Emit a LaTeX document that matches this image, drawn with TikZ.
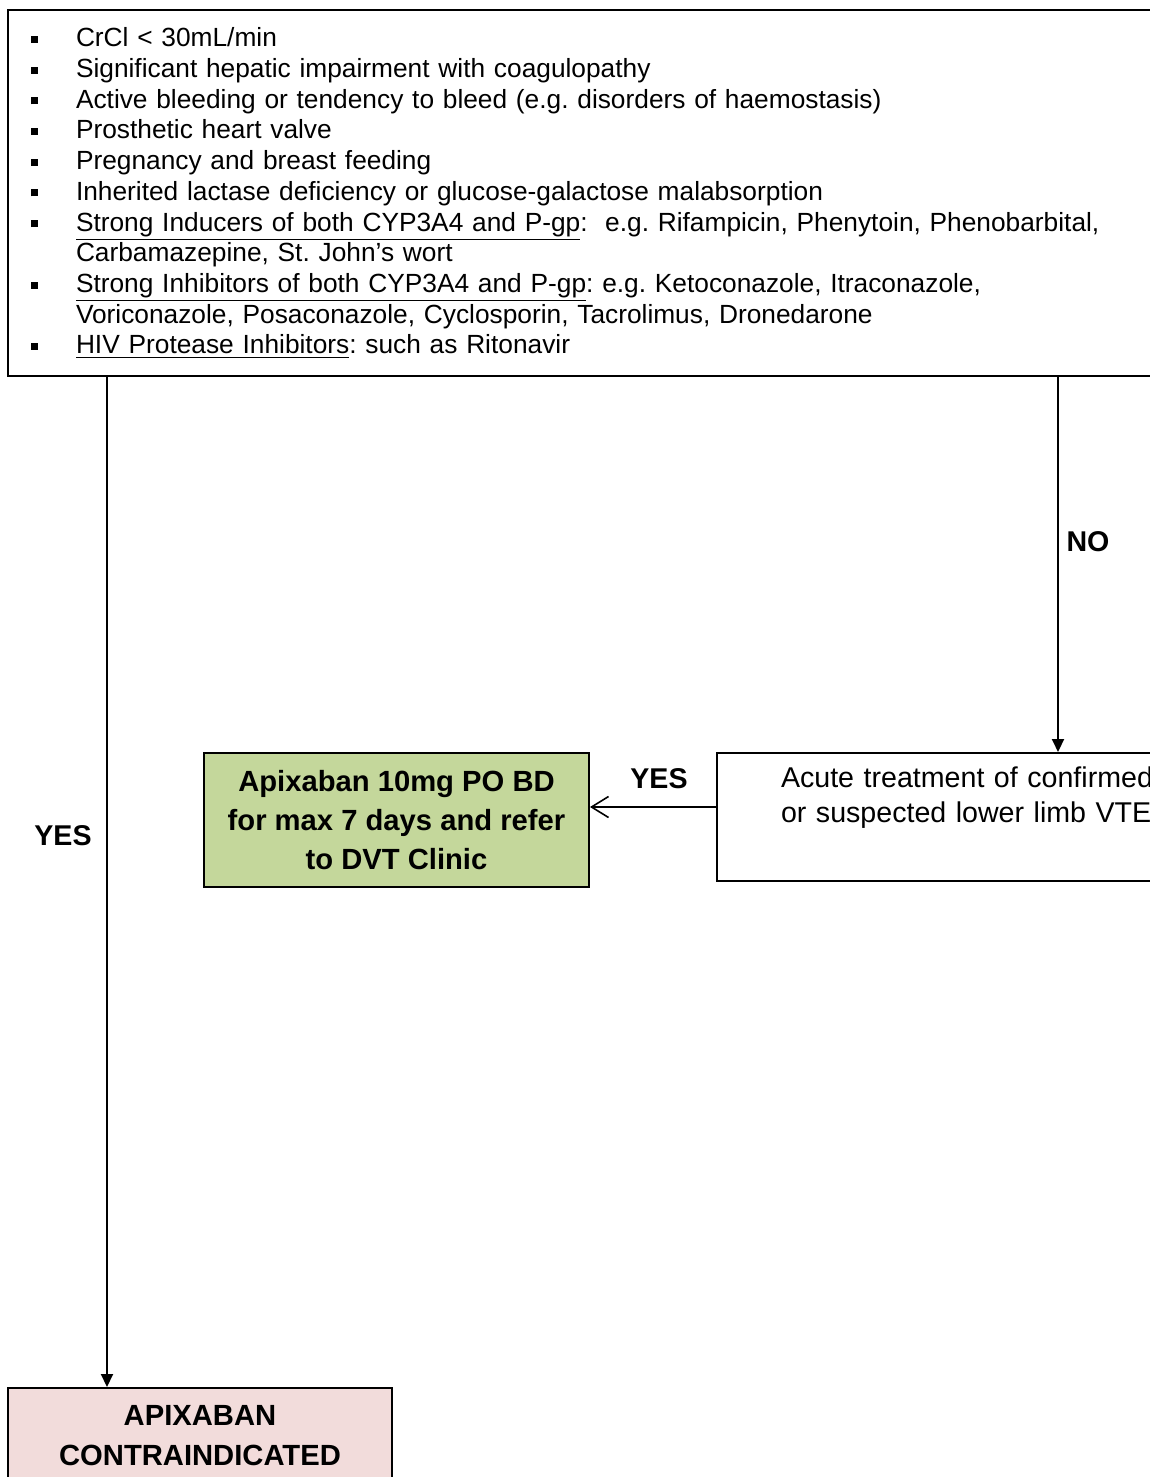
\documentclass[tikz,border=0pt]{standalone}
\usepackage{fontspec}
\setmainfont{Liberation Sans}
\frenchspacing
\usetikzlibrary{
positioning,
arrows.meta,
}
\definecolor{drugfill}{RGB}{196,215,155}
\definecolor{stopfill}{RGB}{242,220,219}
\tikzset{
x=0.5pt, y=-0.5pt,
every node/.style={align=center},
criteria/.style={rectangle, draw, line width=1pt, anchor=north west, align=left,
  inner xsep=11.5pt, font=\fontsize{13.15}{15.35}\selectfont},
process/.style={rectangle, draw, line width=1pt, anchor=north west, align=left,
  font=\fontsize{14.3}{17.5}\selectfont},
drug/.style={rectangle, draw, line width=1pt, anchor=north west, fill=drugfill,
  font=\bfseries\fontsize{14.6}{19.5}\selectfont},
stopbox/.style={rectangle, draw, line width=1pt, anchor=north west, fill=stopfill,
  font=\bfseries\fontsize{14.6}{20}\selectfont},
answer/.style={font=\bfseries\fontsize{14.3}{17}\selectfont},
flow/.style={line width=1pt, -{Triangle[length=6.5pt,width=6pt]}},
back/.style={line width=0.8pt, -{Straight Barb[length=8.5pt,width=10.5pt]}},
}
\newcommand{\critem}[1]{\makebox[22.5pt][l]{\rule[2pt]{3.5pt}{3.5pt}}#1}
\newcommand{\critgap}{\hspace*{22.5pt}}

\begin{document}
\begin{tikzpicture}
\useasboundingbox (0,0) rectangle (1150,1477);
\clip (0,0) rectangle (1150,1477);
\node (crit) [criteria, text width=600pt, minimum height=183pt] at (7,9) {%
  \critem{CrCl < 30mL/min}\\
  \critem{Significant hepatic impairment with coagulopathy}\\
  \critem{Active bleeding or tendency to bleed (e.g. disorders of haemostasis)}\\
  \critem{Prosthetic heart valve}\\
  \critem{Pregnancy and breast feeding}\\
  \critem{Inherited lactase deficiency or glucose-galactose malabsorption}\\
  \critem{\underline{Strong Inducers of both CYP3A4 and P-gp}:\ \ e.g. Rifampicin, Phenytoin, Phenobarbital,}\\
  \critgap Carbamazepine, St. John’s wort\\
  \critem{\underline{Strong Inhibitors of both CYP3A4 and P-gp}: e.g. Ketoconazole, Itraconazole,}\\
  \critgap Voriconazole, Posaconazole, Cyclosporin, Tacrolimus, Dronedarone\\
  \critem{\underline{HIV Protease Inhibitors}: such as Ritonavir}};
\node (acute) [process, inner xsep=32pt, text width=300pt, minimum height=64pt] at (716,752)
  {Acute treatment of confirmed\\or suspected lower limb VTE\\\strut};
\node (drug) [drug, minimum width=192.5pt, minimum height=67pt] at (203,752)
  {Apixaban 10mg PO BD\\for max 7 days and refer\\to DVT Clinic};
\node (contra) [stopbox, minimum width=192pt, minimum height=48pt] at (7,1387)
  {APIXABAN\\CONTRAINDICATED};
\coordinate (ycol) at (107,0);
\coordinate (ncol) at (1058,0);
\coordinate (brow) at (0,807);
\draw [flow] (crit.south -| ycol) -- (contra.north -| ycol);
\draw [flow] (crit.south -| ncol) -- (acute.north -| ncol);
\draw [back] (acute.west |- brow) -- (drug.east |- brow);
\node (yesl) [answer] at (63,836) {YES};
\node (no) [answer] at (1088,542) {NO};
\node (yesr) [answer] at (659,779) {YES};
\end{tikzpicture}
\end{document}
